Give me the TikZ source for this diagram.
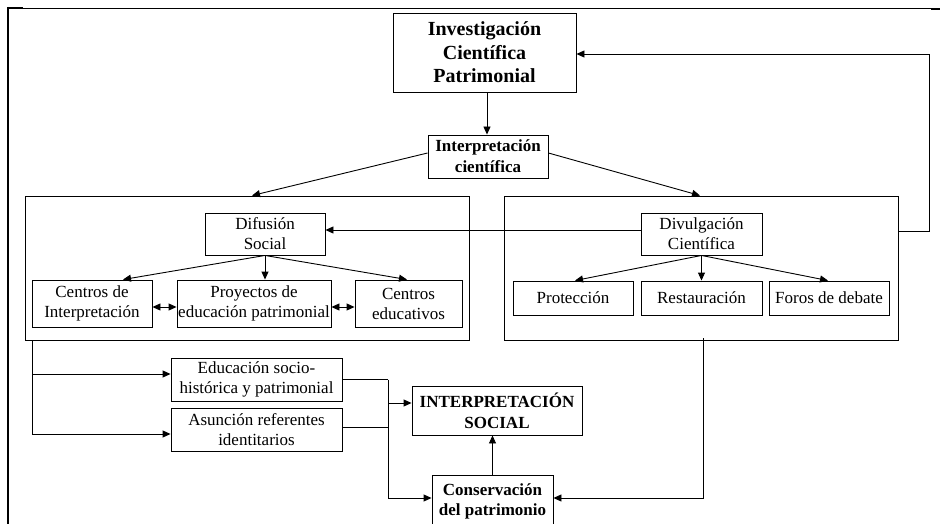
\documentclass[tikz,border=0pt]{standalone}
\usepackage{fontspec}
\setmainfont{Liberation Serif}
\usetikzlibrary{arrows.meta}
\tikzset{
  box/.style={draw, line width=0.9pt, inner sep=0pt, align=center, font=\fontsize{17}{20}\selectfont},
  boldbox/.style={box, font=\fontsize{17}{21}\selectfont\bfseries},
  bigbox/.style={draw, line width=0.9pt, inner sep=0pt},
  conn/.style={line width=0.9pt},
  arr/.style={conn, -{Triangle[length=8pt,width=7pt]}},
  darr/.style={conn, {Triangle[length=8pt,width=7pt]}-{Triangle[length=8pt,width=7pt]}}
}
\begin{document}
\begin{tikzpicture}[x=1pt,y=-1pt]
\useasboundingbox (0,0) rectangle (940,524);
% page frame
\draw[line width=2pt] (8,7) -- (8,524);
\draw[line width=0.9pt] (8,8) -- (940,8);
\draw[line width=2pt] (8,8) -- (23,8);
\draw[line width=2pt] (931,9) -- (940,9);
% nodes
\node[box, minimum width=183pt, minimum height=79pt, font=\fontsize{20}{23.5}\selectfont\bfseries] (inv) at (484.5,52.5) {Investigación\\Científica\\Patrimonial};
\node[boldbox, minimum width=120pt, minimum height=43pt] (ic) at (488,156.5) {Interpretación\\científica};
\node[bigbox, minimum width=444pt, minimum height=144pt] (lbig) at (247,268) {};
\node[bigbox, minimum width=394pt, minimum height=144pt] (rbig) at (701,268) {};
\node[box, minimum width=120pt, minimum height=42pt] (dif) at (265,234) {Difusión\\Social};
\node[box, minimum width=121pt, minimum height=42pt] (div) at (701.5,234) {Divulgación\\Científica};
\node[box, minimum width=120pt, minimum height=47pt] (cdi) at (92,303.5) {Centros de\\Interpretación};
\node[box, minimum width=154pt, minimum height=47pt] (proy) at (254,303.5) {Proyectos de\\educación patrimonial};
\node[box, minimum width=107pt, minimum height=47pt] (ced) at (408.5,303.5) {Centros\\educativos};
\node[box, minimum width=120pt, minimum height=34pt] (prot) at (573,298) {Protección};
\node[box, minimum width=121pt, minimum height=34pt] (rest) at (701.5,298) {Restauración};
\node[box, minimum width=120pt, minimum height=34pt] (foros) at (829,298) {Foros de debate};
\node[box, minimum width=171pt, minimum height=43pt] (edu) at (256.5,379.5) {Educación socio-\\histórica y patrimonial};
\node[box, minimum width=171pt, minimum height=43pt] (asun) at (256.5,429.5) {Asunción referentes\\identitarios};
\node[boldbox, minimum width=170pt, minimum height=49pt] (isoc) at (497,410.5) {INTERPRETACIÓN\\SOCIAL};
\node[boldbox, minimum width=121pt, minimum height=53pt, font=\fontsize{17}{20}\selectfont\bfseries] (cons) at (492.5,501.5) {Conservación\\del patrimonio};
% connectors
\draw[arr] ([xshift=2.5pt]inv.south) -- ([xshift=-1pt]ic.north);
\draw[arr] ([yshift=3.5pt]ic.west) -- ([xshift=5pt]lbig.north);
\draw[arr] ([yshift=3.5pt]ic.east) -- ([xshift=-1pt]rbig.north);
\coordinate (fb) at (929,54);
\draw[arr] ([yshift=37pt]rbig.east) -| (fb) -- (fb -| inv.east);
\draw[arr] ([yshift=4pt]div.west) -- ([yshift=4pt]dif.east);
\draw[arr] (dif.south) -- ([xshift=31pt]cdi.north);
\draw[arr] (dif.south) -- (dif.south |- proy.north);
\draw[arr] (dif.south) -- ([xshift=-1.5pt]ced.north);
\draw[darr] ([yshift=-3.5pt]cdi.east) -- ([yshift=-3.5pt]proy.west);
\draw[darr] ([yshift=-3.5pt]proy.east) -- ([yshift=-3.5pt]ced.west);
\draw[arr] (div.south) -- ([xshift=2pt]prot.north);
\draw[arr] (div.south) -- (rest.north);
\draw[arr] (div.south) -- ([xshift=-1pt]foros.north);
\coordinate (lb) at ([xshift=8pt]lbig.south west);
\draw[arr] (lb) |- ([yshift=5.5pt]edu.west);
\draw[arr] (lb) |- ([yshift=-4.5pt]asun.west);
\draw[conn] (edu.east) -- ++(46,0) coordinate (j1);
\draw[conn] ([yshift=2.5pt]asun.east) -- ([yshift=2.5pt]asun.east -| j1);
\draw[arr] (j1) |- ([yshift=3.5pt]cons.west);
\coordinate (isw) at ([yshift=7.5pt]isoc.west);
\draw[arr] (isw -| j1) -- (isw);
\draw[arr] ([xshift=2pt,yshift=2pt]rbig.south) |- ([yshift=3.5pt]cons.east);
\draw[arr] (cons.north) -- (cons.north |- isoc.south);
\end{tikzpicture}
\end{document}
